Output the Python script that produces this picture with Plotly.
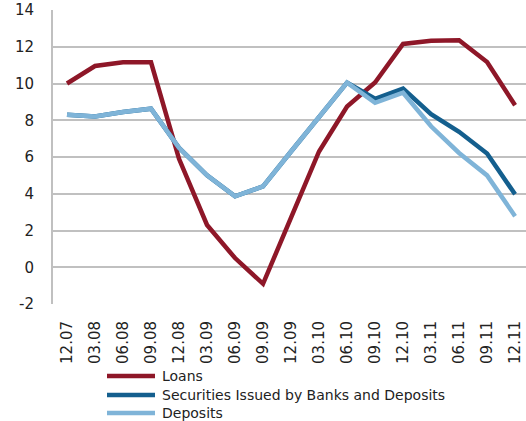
import plotly.graph_objects as go

# Quarter-end labels (MM.YY)
quarters = ["12.07", "03.08", "06.08", "09.08", "12.08", "03.09", "06.09", "09.09",
            "12.09", "03.10", "06.10", "09.10", "12.10", "03.11", "06.11", "09.11", "12.11"]

# Annual growth rates, %
loans = [10.0, 10.95, 11.15, 11.15, 5.9, 2.3, 0.5, -0.9,
         2.7, 6.3, 8.75, 10.05, 12.15, 12.32, 12.35, 11.17, 8.82]
securities_and_deposits = [8.3, 8.2, 8.45, 8.63, 6.5, 5.0, 3.86, 4.4,
                           6.3, 8.18, 10.05, 9.17, 9.72, 8.33, 7.37, 6.19, 3.97]
deposits = [8.3, 8.2, 8.45, 8.63, 6.5, 5.0, 3.86, 4.4,
            6.3, 8.18, 10.05, 8.95, 9.5, 7.67, 6.22, 5.0, 2.78]

series_names = ["Loans", "Securities Issued by Banks and Deposits", "Deposits"]
series_colors = ["#8E1728", "#145F8E", "#7FB4D8"]

y_ticks = [-2, 0, 2, 4, 6, 8, 10, 12, 14]
y_tick_text = [str(v) for v in y_ticks]  # plain hyphen for negatives

font_family = "DejaVu Sans"
text_color = "#222222"

W, H = 526, 421
M_L, M_R, M_T, M_B = 53, 0, 10, 117
plot_w = W - M_L - M_R
plot_h = H - M_T - M_B

fig = go.Figure()
for name, vals, col in zip(series_names, [loans, securities_and_deposits, deposits], series_colors):
    fig.add_trace(go.Scatter(x=quarters, y=vals, mode="lines", name=name,
                             line=dict(color=col, width=4.5), showlegend=False))

# Legend drawn below the plot: short line sample followed by its label
def px_to_paper(px, py):
    return (px - M_L) / plot_w, (H - M_B - py) / plot_h

legend_rows_y = [376, 395, 413]
for name, col, ry in zip(series_names, series_colors, legend_rows_y):
    x0, y0 = px_to_paper(107, ry)
    x1, _ = px_to_paper(155, ry)
    fig.add_shape(type="line", xref="paper", yref="paper", x0=x0, x1=x1, y0=y0, y1=y0,
                  line=dict(color=col, width=4.5))
    tx, _ = px_to_paper(160, ry)
    fig.add_annotation(xref="paper", yref="paper", x=tx, y=y0, text=name,
                       showarrow=False, xanchor="left", yanchor="middle",
                       font=dict(family=font_family, size=14, color=text_color))

fig.update_layout(
    width=W, height=H,
    margin=dict(l=M_L, r=M_R, t=M_T, b=M_B),
    paper_bgcolor="white", plot_bgcolor="white",
    font=dict(family=font_family, size=14, color=text_color),
    showlegend=False,
    xaxis=dict(type="category", range=[-0.5, 16.39],
               tickangle=-90, showgrid=False, ticks="",
               showline=False, zeroline=False,
               tickfont=dict(size=15), ticklabelstandoff=13),
    yaxis=dict(range=[-2, 14], tickvals=y_ticks, ticktext=y_tick_text, ticks="",
               showgrid=True, gridcolor="#C0C0C0", gridwidth=2,
               zeroline=False, showline=True, linecolor="#C0C0C0", linewidth=2,
               tickfont=dict(size=15), ticklabelstandoff=14),
)

fig.write_html("out.html")
